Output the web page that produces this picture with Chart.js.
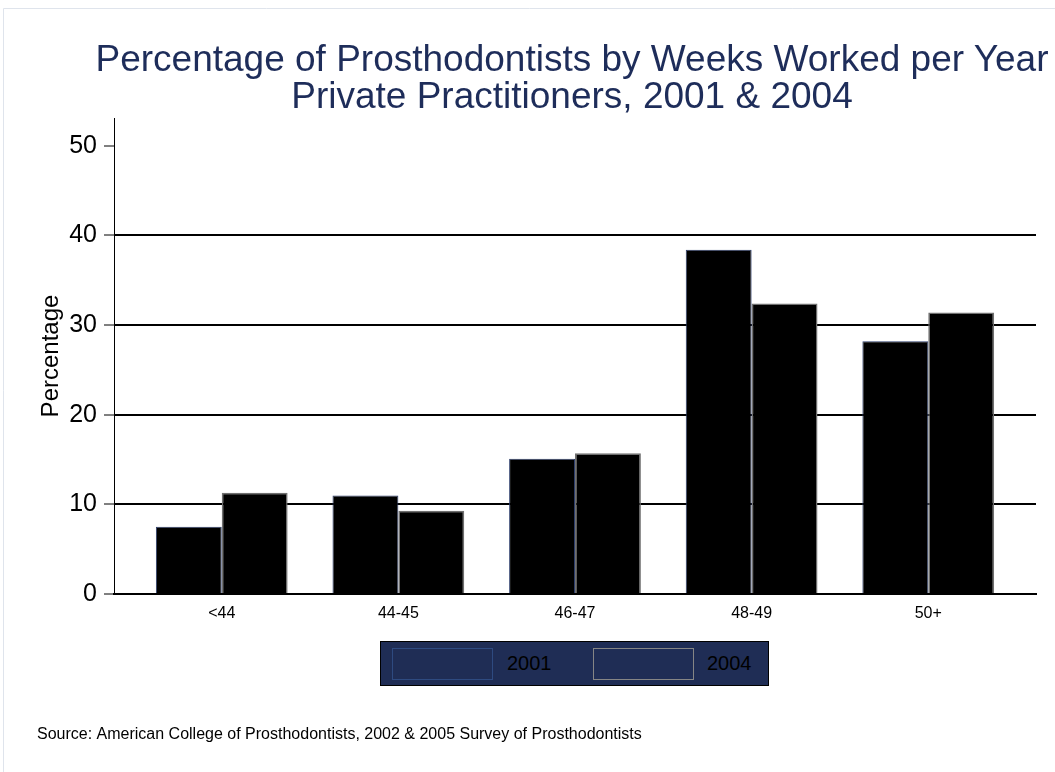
<!DOCTYPE html>
<html>
<head>
<meta charset="utf-8">
<script src="https://cdn.jsdelivr.net/npm/chart.js@4.4.1/dist/chart.umd.min.js"></script>
<style>
  html, body { margin: 0; padding: 0; background: #fff; }
  #wrap { position: relative; width: 1055px; height: 772px; overflow: hidden;
          font-family: "Liberation Sans", Arial, Helvetica, sans-serif; }
  #chart { position: absolute; left: 0; top: 0; }
  #title { position: absolute; left: 0; top: 40px; width: 1144px; text-align: center;
           font-size: 37px; line-height: 37px; color: #1e2d5a; white-space: nowrap; }
  #legend { position: absolute; left: 380px; top: 641px; width: 387px; height: 43px;
            background: #1f2d55; border: 1px solid #000; }
  #legend .sw { position: absolute; top: 6px; width: 99px; height: 30px; border: 1px solid; }
  #legend .lab { position: absolute; top: 0; line-height: 43px; font-size: 20px; color: #000; }
</style>
</head>
<body>
<div id="wrap">
  <canvas id="chart" width="1055" height="772"></canvas>
  <div id="title">Percentage of Prosthodontists by Weeks Worked per Year<br>Private Practitioners, 2001 &amp; 2004</div>
  <div id="legend"></div>
</div>
<script>
const categories = ['<44', '44-45', '46-47', '48-49', '50+'];
const years = ['2001', '2004'];
const pct2001 = [7.5, 11.0, 15.1, 38.4, 28.2];
const pct2004 = [11.3, 9.3, 15.7, 32.4, 31.4];
const yTicks = [0, 10, 20, 30, 40, 50];

const barEdge = ['#2c3d6b', '#707070'];
const legendEdge = ['#2e4a80', '#858585'];

Chart.defaults.font.family = '"Liberation Sans", Arial, Helvetica, sans-serif';

// legend: navy block with outlined swatches, as in the original
const legend = document.getElementById('legend');
years.forEach((yr, i) => {
    const sw = document.createElement('div');
    sw.className = 'sw';
    sw.style.left = (11 + i * 201) + 'px';
    sw.style.borderColor = legendEdge[i];
    legend.appendChild(sw);
    const lab = document.createElement('span');
    lab.className = 'lab';
    lab.style.left = (126 + i * 200) + 'px';
    lab.textContent = yr;
    legend.appendChild(lab);
});

// white page and faint frame
const backdrop = {
    id: 'backdrop',
    beforeDraw(chart) {
        const ctx = chart.ctx;
        ctx.save();
        ctx.fillStyle = '#fff';
        ctx.fillRect(0, 0, chart.width, chart.height);
        ctx.strokeStyle = '#dfe4ec';
        ctx.lineWidth = 1;
        ctx.beginPath();
        ctx.moveTo(3.5, chart.height);
        ctx.lineTo(3.5, 8.5);
        ctx.lineTo(chart.width, 8.5);
        ctx.stroke();
        ctx.restore();
    }
};

new Chart(document.getElementById('chart'), {
    type: 'bar',
    data: {
        datasets: [
            {
                label: years[0],
                data: pct2001.map((v, i) => ({x: i, y: v})),
                backgroundColor: '#000',
                borderColor: barEdge[0],
                borderWidth: 1
            },
            {
                label: years[1],
                data: pct2004.map((v, i) => ({x: i, y: v})),
                backgroundColor: '#000',
                borderColor: barEdge[1],
                borderWidth: 1.5
            }
        ]
    },
    options: {
        responsive: false,
        animation: false,
        devicePixelRatio: 1,
        categoryPercentage: 0.746,
        barPercentage: 1,
        layout: {padding: {left: 37, right: 19, top: 118, bottom: 0}},
        scales: {
            x: {
                type: 'linear',
                min: -0.61,
                max: 4.61,
                offset: false,
                grid: {display: false, drawTicks: false},
                border: {display: true, color: '#000', width: 2},
                ticks: {
                    stepSize: 1,
                    includeBounds: false,
                    autoSkip: false,
                    maxRotation: 0,
                    padding: 10,
                    color: '#000',
                    font: {size: 16},
                    callback: v => categories[v] ?? ''
                }
            },
            y: {
                min: 0,
                max: 53.1,
                afterFit: s => { s.width = 77; },
                afterBuildTicks: s => { s.ticks = yTicks.map(v => ({value: v})); },
                grid: {
                    color: c => (c.tick && c.tick.value > 0 && c.tick.value < 50) ? '#000' : 'rgba(0,0,0,0)',
                    lineWidth: 2,
                    tickColor: '#000',
                    tickLength: 10,
                    tickWidth: 1
                },
                border: {color: '#000', width: 1},
                ticks: {padding: 7, color: '#000', font: {size: 25}},
                title: {
                    display: true,
                    text: 'Percentage',
                    color: '#000',
                    font: {size: 24},
                    padding: {top: 0, bottom: 0}
                }
            }
        },
        plugins: {
            title: {display: false},
            subtitle: {
                display: true,
                position: 'bottom',
                align: 'start',
                text: 'Source: American College of Prosthodontists, 2002 & 2005 Survey of Prosthodontists',
                color: '#000',
                font: {size: 16, lineHeight: 1.2},
                padding: {top: 92.2, bottom: 27.4}
            },
            legend: {display: false},
            tooltip: {enabled: false}
        }
    },
    plugins: [backdrop]
});
</script>
</body>
</html>
